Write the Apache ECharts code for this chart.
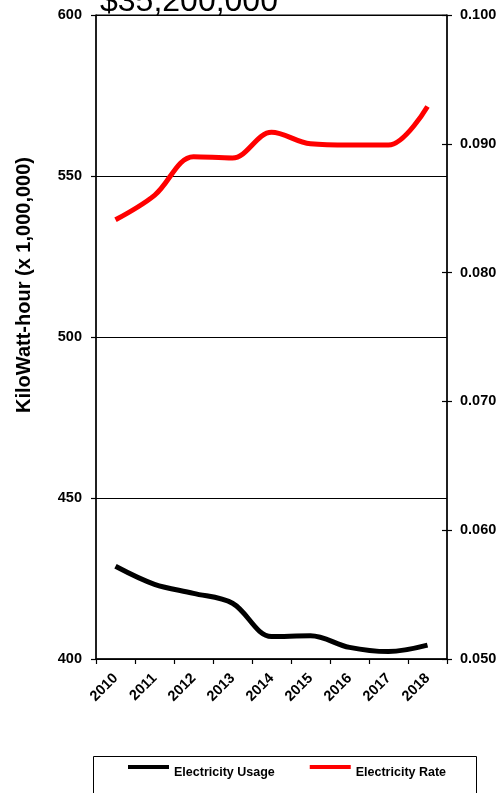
<!DOCTYPE html>
<html><head><meta charset="utf-8">
<script src="https://cdn.jsdelivr.net/npm/echarts@6/dist/echarts.min.js"></script>
<style>html,body{margin:0;padding:0;background:#fff}#c{width:502px;height:793px}</style>
</head><body><div id="c"></div>
<script>
const years = ['2010', '2011', '2012', '2013', '2014', '2015', '2016', '2017', '2018'];
const usage = [428.8, 423.2, 420.4, 417.3, 407.0, 407.2, 403.6, 402.3, 404.3];
const rate = [0.0841, 0.0860, 0.0890, 0.0889, 0.0909, 0.0900, 0.0899, 0.0899, 0.0929];
const titleText = '$35,200,000';
const yName = 'KiloWatt-hour (x 1,000,000)';
const seriesNames = ['Electricity Usage', 'Electricity Rate'];

const FONT = 'Liberation Sans';
const chart = echarts.init(document.getElementById('c'));
const lbl = { color: '#000', fontFamily: FONT, fontWeight: 'bold', fontSize: 14.5 };
chart.setOption({
  animation: false,
  backgroundColor: '#fff',
  grid: { left: 96, right: 55, top: 15, bottom: 134, show: true, borderColor: '#000', borderWidth: 1, outerBoundsMode: 'none' },
  graphic: [
    { type: 'text', left: 100, top: -14, style: { text: titleText, font: '32px "Liberation Sans"', fill: '#000' } },
    { type: 'text', x: 24, y: 285, rotation: Math.PI / 2, style: { text: yName, font: 'bold 20px "Liberation Sans"', fill: '#000', align: 'center', verticalAlign: 'middle' } },
    { type: 'rect', shape: { x: 93.5, y: 756.5, width: 383, height: 80 }, style: { fill: 'none', stroke: '#000', lineWidth: 1 } }
  ],
  legend: {
    data: seriesNames, left: 128, top: 765, padding: 0,
    icon: 'path://M0,0H41V4H0Z M0,15.99H0.01V16H0Z', itemWidth: 41, itemHeight: 16, itemGap: 35,
    textStyle: { color: '#000', fontFamily: FONT, fontWeight: 'bold', fontSize: 12.5 }
  },
  xAxis: {
    type: 'category', data: years, boundaryGap: true,
    axisLine: { lineStyle: { color: '#000', width: 1.5 } },
    axisTick: { show: true, length: 5, lineStyle: { color: '#000', width: 1.2 } },
    axisLabel: Object.assign({ rotate: 45, margin: 17, interval: 0 }, lbl),
    splitLine: { show: false }
  },
  yAxis: [
    { type: 'value', position: 'left', min: 400, max: 600, interval: 50,
      axisLine: { show: true, lineStyle: { color: '#000', width: 1.5 } },
      axisTick: { show: true, length: 5, lineStyle: { color: '#000', width: 1.2 } },
      axisLabel: Object.assign({ margin: 14 }, lbl),
      splitLine: { show: true, lineStyle: { color: '#000', width: 1 } } },
    { type: 'value', position: 'right', min: 0.05, max: 0.1, interval: 0.01,
      axisLine: { show: true, lineStyle: { color: '#000', width: 1.5 } },
      axisTick: { show: true, length: 5, lineStyle: { color: '#000', width: 1.2 } },
      axisLabel: Object.assign({ margin: 13, formatter: v => v.toFixed(3) }, lbl),
      splitLine: { show: false } },
    { type: 'value', position: 'right', min: 0.05, max: 0.1, interval: 0.01,
      axisLine: { show: false },
      axisTick: { show: true, inside: true, length: 5, lineStyle: { color: '#000', width: 1.2 } },
      axisLabel: { show: false }, splitLine: { show: false } }
  ],
  series: [
    { name: seriesNames[0], type: 'line', yAxisIndex: 0, data: usage, smooth: 0.35, showSymbol: false,
      lineStyle: { color: '#000', width: 5 }, itemStyle: { color: '#000' } },
    { name: seriesNames[1], type: 'line', yAxisIndex: 1, data: rate, smooth: 0.35, showSymbol: false,
      lineStyle: { color: '#ff0000', width: 5 }, itemStyle: { color: '#ff0000' } }
  ]
});
</script></body></html>
